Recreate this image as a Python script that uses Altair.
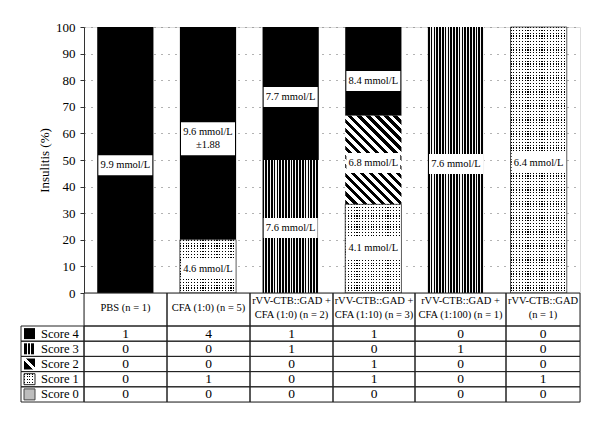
import altair as alt
import pandas as pd

# ---------------- data ----------------
groups = [
    "PBS (n = 1)",
    "CFA (1:0) (n = 5)",
    "rVV-CTB::GAD + CFA (1:0) (n = 2)",
    "rVV-CTB::GAD + CFA (1:10) (n = 3)",
    "rVV-CTB::GAD + CFA (1:100) (n = 1)",
    "rVV-CTB::GAD (n = 1)",
]
header_text = [
    "PBS (n = 1)",
    "CFA (1:0) (n = 5)",
    "rVV-CTB::GAD +\nCFA (1:0) (n = 2)",
    "rVV-CTB::GAD +\nCFA (1:10) (n = 3)",
    "rVV-CTB::GAD +\nCFA (1:100) (n = 1)",
    "rVV-CTB::GAD\n(n = 1)",
]
score_names = ["Score 4", "Score 3", "Score 2", "Score 1", "Score 0"]
score_levels = [4, 3, 2, 1, 0]
counts_score4 = [1, 4, 1, 1, 0, 0]
counts_score3 = [0, 0, 1, 0, 1, 0]
counts_score2 = [0, 0, 0, 1, 0, 0]
counts_score1 = [0, 1, 0, 1, 0, 1]
counts_score0 = [0, 0, 0, 0, 0, 0]
counts = {4: counts_score4, 3: counts_score3, 2: counts_score2, 1: counts_score1, 0: counts_score0}

label_group_idx = [0, 1, 1, 2, 2, 3, 3, 3, 4, 5]
label_text = ["9.9 mmol/L", "9.6 mmol/L\n±1.88", "4.6 mmol/L", "7.7 mmol/L", "7.6 mmol/L",
              "8.4 mmol/L", "6.8 mmol/L", "4.1 mmol/L", "7.6 mmol/L", "6.4 mmol/L"]
label_value = [48, 58, 9, 73.7, 24.4, 79.7, 48.9, 16.9, 48.5, 48.9]
y_ticks = list(range(0, 101, 10))

# ---------------- layout constants ----------------
FONT = "Liberation Serif"
W, H = 496, 266
PX_PER_PCT = H / 100
BW = W / 6 * 0.68
col_w = [83, 83, 83, 82, 91, 74]
LEG_W = 63
HDR_H = 33
ROW_H = 15.2
TAB_H = HDR_H + ROW_H * 5
LAB_LH = 13
HDR_LH = 14

rows = []
for g in range(6):
    for lvl in score_levels:
        rows.append(dict(group=groups[g], gi=g, score=lvl, count=counts[lvl][g]))
df = pd.DataFrame(rows)
df["n"] = df.groupby("group")["count"].transform("sum")
df["pct"] = 100 * df["count"] / df["n"]


def stripe_grad(n, frac, c_on, c_off, x1, y1, x2, y2):
    stops = []
    for i in range(n):
        a, b, c = i / n, (i + frac) / n, (i + 1) / n
        stops += [alt.GradientStop(offset=round(a, 5), color=c_on),
                  alt.GradientStop(offset=round(b, 5), color=c_on),
                  alt.GradientStop(offset=round(b, 5), color=c_off),
                  alt.GradientStop(offset=round(c, 5), color=c_off)]
    return alt.LinearGradient(gradient="linear", stops=stops, x1=x1, y1=y1, x2=x2, y2=y2)


def diag_vec(w, h):
    iw, ih = 1 / w, 1 / h
    t = (iw - ih) / (iw ** 2 + ih ** 2)
    return 0, 1, 1 - t / w, -t / h


CLEAR = "rgba(255,255,255,0)"

# ---------------- bar chart ----------------
x_enc = alt.X("group:N", sort=groups,
              scale=alt.Scale(domain=groups, paddingInner=0.32, paddingOuter=0.16), axis=None)
y_scale = alt.Scale(domain=[0, 100], nice=False)
y_axis = alt.Axis(values=y_ticks, title="Insulitis (%)", titleFont=FONT, titleFontSize=13,
                  titleFontWeight="normal", titleColor="black", titlePadding=4,
                  labelFont=FONT, labelFontSize=13, labelColor="black", labelPadding=5,
                  tickSize=4, tickColor="#333", domainColor="#333",
                  grid=True, gridColor="#666", gridDash=[1, 6], gridWidth=1)


def Y(field):
    return alt.Y(field, scale=y_scale, axis=y_axis)


stacked = (alt.Chart(df)
           .transform_joinaggregate(tot="sum(count)", groupby=["group"])
           .transform_calculate(p="100 * datum.count / datum.tot")
           .transform_stack(stack="p", groupby=["group"], as_=["y0", "y1"],
                            sort=[alt.SortField("score", order="ascending")]))


def seg(cond, **mk):
    return (stacked.transform_filter(cond)
            .mark_bar(**mk)
            .encode(x=x_enc, y=Y("y0:Q"), y2="y1:Q"))


layers = []
layers.append(seg("datum.score == 4 && datum.count > 0", fill="black"))
layers.append(seg("datum.score == 3 && datum.count > 0",
                  fill=stripe_grad(20, 0.6, "black", "#f4f4f4", 0, 0, 1, 0)))
for _, r in df[(df.score == 2) & (df["count"] > 0)].iterrows():
    hpx = r["pct"] * PX_PER_PCT
    x1, y1, x2, y2 = diag_vec(BW, hpx)
    n = round((BW + hpx) / 2 ** 0.5 / 6.5)
    layers.append(seg(f"datum.score == 2 && datum.gi == {r['gi']}",
                      fill=stripe_grad(n, 0.5, "black", "white", x1, y1, x2, y2)))
layers.append(seg("datum.score == 1 && datum.count > 0",
                  fill=stripe_grad(round(BW / 2.8), 0.4, "black", "white", 0, 0, 1, 0)))
for _, r in df[(df.score == 1) & (df["count"] > 0)].iterrows():
    hpx = r["pct"] * PX_PER_PCT
    layers.append(seg(f"datum.score == 1 && datum.gi == {r['gi']}",
                      fill=stripe_grad(round(hpx / 2.8), 0.4, CLEAR, "white", 0, 0, 0, 1),
                      stroke="#333", strokeWidth=0.8))

lab = pd.DataFrame({"group": [groups[i] for i in label_group_idx],
                    "text": label_text, "v": label_value})
lab["lines"] = lab["text"].str.count("\n") + 1
lab["half"] = (10 + (lab["lines"] - 1) * LAB_LH / 2) / PX_PER_PCT
lab["lo"] = lab["v"] - lab["half"]
lab["hi"] = lab["v"] + lab["half"]
lab["anchor"] = lab["v"] + (lab["lines"] - 1) * LAB_LH / 2 / PX_PER_PCT

boxes = alt.Chart(lab).mark_bar(fill="white", width=54).encode(x=x_enc, y=Y("lo:Q"), y2="hi:Q")
texts = alt.Chart(lab).mark_text(font=FONT, fontSize=10.5, color="black", lineBreak="\n",
                                 baseline="middle", lineHeight=LAB_LH).encode(
    x=x_enc, y=Y("anchor:Q"), text="text:N")

top = alt.layer(*layers, boxes, texts).properties(width=W, height=H)

# ---------------- table ----------------
edges = [0]
for w in col_w:
    edges.append(edges[-1] + w)

cells = []
for g in range(6):
    nl = header_text[g].count("\n") + 1
    cells.append(dict(kind="hdr", x0=edges[g], x1=edges[g + 1], y0=0, y1=HDR_H,
                      text=header_text[g], score=-1,
                      ty=15 - (nl - 1) * HDR_LH / 2))
for r, lvl in enumerate(score_levels):
    y0 = HDR_H + r * ROW_H
    cells.append(dict(kind="leg", x0=-LEG_W, x1=0, y0=y0, y1=y0 + ROW_H,
                      text=score_names[r], score=lvl, ty=y0 + ROW_H / 2))
    for g in range(6):
        cells.append(dict(kind="val", x0=edges[g], x1=edges[g + 1], y0=y0, y1=y0 + ROW_H,
                          text=str(counts[lvl][g]), score=lvl, ty=y0 + ROW_H / 2))
cdf = pd.DataFrame(cells)
cdf["xc"] = (cdf.x0 + cdf.x1) / 2
cdf["yc"] = (cdf.y0 + cdf.y1) / 2
cdf["sx0"] = cdf.x0 + 3
cdf["sx1"] = cdf.x0 + 14
cdf["sy0"] = cdf.yc - 5.5
cdf["sy1"] = cdf.yc + 5.5
cdf["tx"] = cdf.x0 + 20

tx_scale = alt.Scale(domain=[0, W], nice=False, zero=False)
ty_scale = alt.Scale(domain=[0, TAB_H], nice=False, zero=False, reverse=True)
tbase = alt.Chart(cdf)

grid = tbase.mark_rect(fillOpacity=0, stroke="#222", strokeWidth=1).encode(
    x=alt.X("x0:Q", scale=tx_scale, axis=None), x2="x1:Q",
    y=alt.Y("y0:Q", scale=ty_scale, axis=None), y2="y1:Q")
hdr_txt = tbase.transform_filter("datum.kind == 'hdr'").mark_text(
    font=FONT, fontSize=10.5, lineBreak="\n", lineHeight=HDR_LH, baseline="middle", color="black").encode(
    x=alt.X("xc:Q", scale=tx_scale, axis=None), y=alt.Y("ty:Q", scale=ty_scale, axis=None), text="text:N")
val_txt = tbase.transform_filter("datum.kind == 'val'").mark_text(
    font=FONT, fontSize=13.5, baseline="middle", color="black").encode(
    x=alt.X("xc:Q", scale=tx_scale, axis=None), y=alt.Y("ty:Q", scale=ty_scale, axis=None), text="text:N")
leg_txt = tbase.transform_filter("datum.kind == 'leg'").mark_text(
    font=FONT, fontSize=12.5, baseline="middle", align="left", color="black").encode(
    x=alt.X("tx:Q", scale=tx_scale, axis=None), y=alt.Y("ty:Q", scale=ty_scale, axis=None), text="text:N")


def swatch(lvl, **mk):
    return tbase.transform_filter(f"datum.kind == 'leg' && datum.score == {lvl}").mark_rect(**mk).encode(
        x=alt.X("sx0:Q", scale=tx_scale, axis=None), x2="sx1:Q",
        y=alt.Y("sy0:Q", scale=ty_scale, axis=None), y2="sy1:Q")


sw = [
    swatch(4, fill="black"),
    swatch(3, fill=stripe_grad(3, 0.72, "black", "white", 0, 0, 1, 0)),
    swatch(2, fill=alt.LinearGradient(gradient="linear", x1=0, y1=1, x2=1, y2=0, stops=[
        alt.GradientStop(offset=0, color="black"), alt.GradientStop(offset=0.42, color="black"),
        alt.GradientStop(offset=0.42, color="white"), alt.GradientStop(offset=0.58, color="white"),
        alt.GradientStop(offset=0.58, color="black"), alt.GradientStop(offset=1, color="black")])),
    swatch(1, fill=stripe_grad(4, 0.35, "black", "white", 0, 0, 1, 0)),
    swatch(1, fill=stripe_grad(4, 0.35, CLEAR, "white", 0, 0, 0, 1), stroke="#222", strokeWidth=1),
    swatch(0, fill="#bdbdbd", stroke="#444", strokeWidth=1),
]

bottom = alt.layer(grid, hdr_txt, val_txt, leg_txt, *sw).properties(width=W, height=TAB_H)

chart = (alt.vconcat(top, bottom, spacing=0, bounds="flush")
         .properties(padding={"left": 12, "top": 12, "right": 5, "bottom": 5})
         .configure_view(stroke="#333", strokeWidth=1)
         .configure(font=FONT, background="white"))

chart.save("out.html", embed_options={"renderer": "svg", "actions": False})
